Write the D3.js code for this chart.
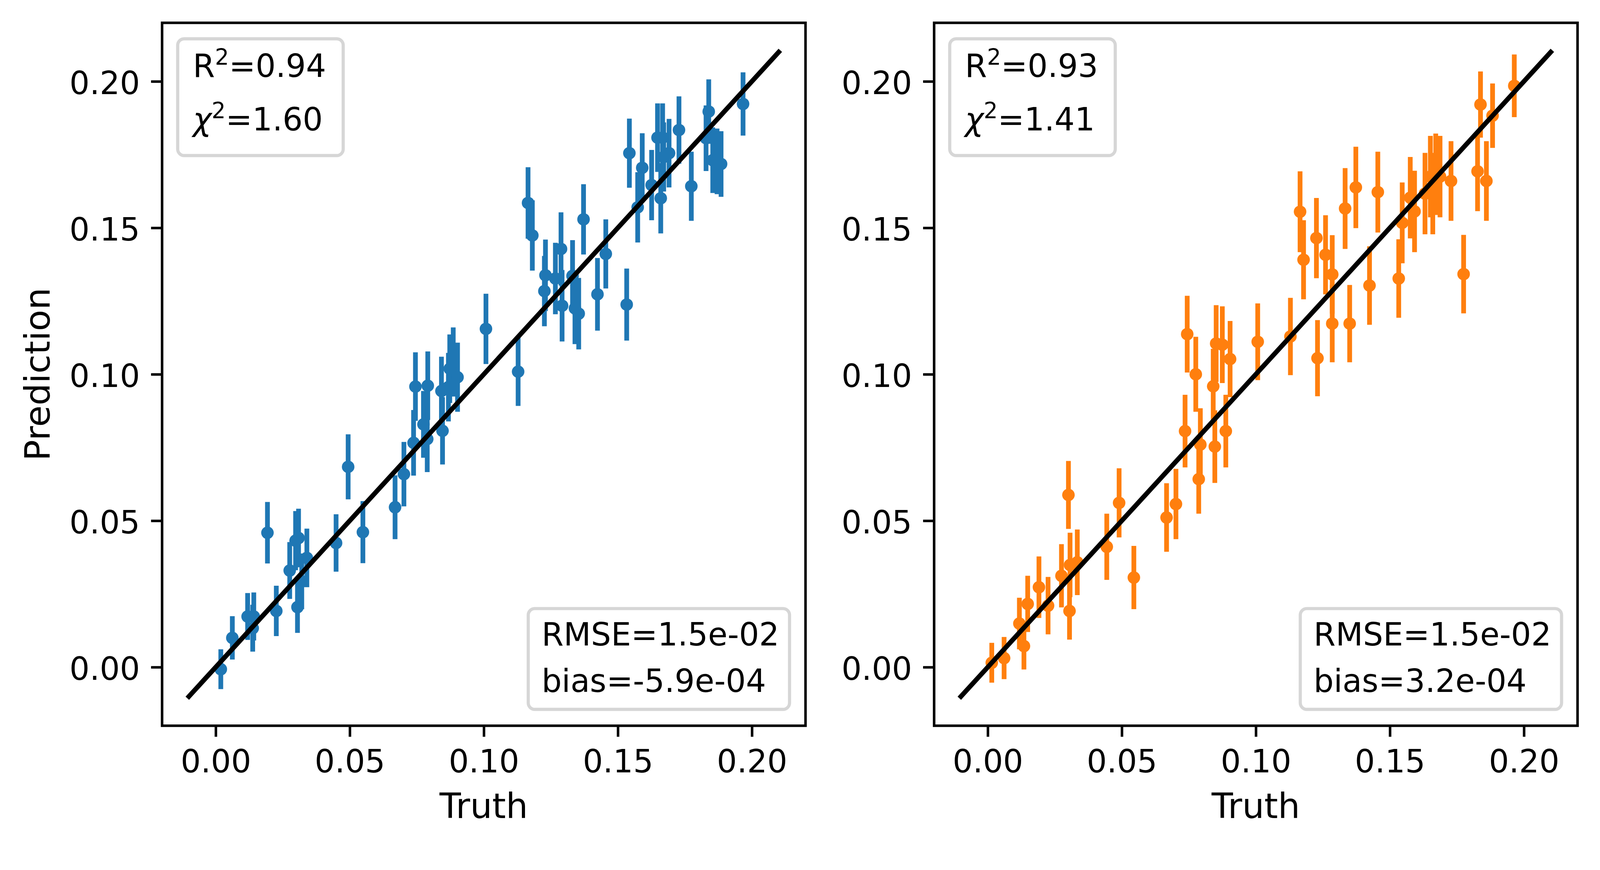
<!DOCTYPE html>
<html>
<head>
<meta charset="utf-8">
<script src="https://cdn.jsdelivr.net/npm/d3@7"></script>
<style>
  html, body { margin: 0; padding: 0; background: #fff; overflow: hidden; }
  #canvas { display: block; width: 100vw; height: 100vh; }
  text { font-family: "DejaVu Sans", sans-serif; }
</style>
</head>
<body>
<svg id="canvas" viewBox="0 0 4205 2228" preserveAspectRatio="xMidYMin meet"></svg>
<script>
// left model (blue): truth, prediction, 1-sigma error
const truthA = [0.0019,0.0062,0.0119,0.0138,0.0142,0.0193,0.0226,0.0276,0.0298,0.0305,0.0309,0.0321,0.0340,0.0449,0.0494,0.0549,0.0669,0.0702,0.0738,0.0745,0.0775,0.0789,0.0791,0.0842,0.0846,0.0868,0.0873,0.0886,0.0902,0.1008,0.1128,0.1165,0.1181,0.1226,0.1230,0.1267,0.1288,0.1292,0.1331,0.1340,0.1354,0.1372,0.1424,0.1455,0.1533,0.1543,0.1574,0.1591,0.1626,0.1648,0.1660,0.1667,0.1671,0.1691,0.1728,0.1774,0.1829,0.1839,0.1854,0.1870,0.1885,0.1967];
const predA = [-0.0007,0.0100,0.0173,0.0133,0.0173,0.0459,0.0192,0.0330,0.0432,0.0205,0.0441,0.0293,0.0373,0.0424,0.0684,0.0461,0.0546,0.0659,0.0766,0.0958,0.0829,0.0779,0.0961,0.0943,0.0807,0.0956,0.1019,0.1042,0.0990,0.1155,0.1009,0.1585,0.1474,0.1284,0.1338,0.1327,0.1428,0.1234,0.1336,0.1225,0.1207,0.1529,0.1273,0.1411,0.1238,0.1755,0.1570,0.1705,0.1646,0.1808,0.1601,0.1808,0.1742,0.1755,0.1834,0.1642,0.1806,0.1897,0.1731,0.1727,0.1718,0.1923];
const errA = [0.0068,0.0074,0.0080,0.0080,0.0082,0.0105,0.0086,0.0097,0.0101,0.0088,0.0100,0.0095,0.0100,0.0098,0.0111,0.0106,0.0109,0.0110,0.0112,0.0117,0.0114,0.0113,0.0117,0.0117,0.0115,0.0117,0.0117,0.0118,0.0118,0.0120,0.0117,0.0122,0.0120,0.0120,0.0122,0.0122,0.0125,0.0122,0.0122,0.0122,0.0122,0.0120,0.0124,0.0118,0.0123,0.0118,0.0120,0.0118,0.0120,0.0117,0.0120,0.0117,0.0118,0.0117,0.0115,0.0118,0.0112,0.0110,0.0112,0.0112,0.0112,0.0108];

// right model (orange)
const truthB = [0.0015,0.0061,0.0118,0.0135,0.0149,0.0191,0.0225,0.0275,0.0301,0.0305,0.0307,0.0334,0.0444,0.0490,0.0545,0.0667,0.0702,0.0736,0.0744,0.0776,0.0787,0.0793,0.0841,0.0847,0.0852,0.0875,0.0888,0.0904,0.1007,0.1129,0.1165,0.1178,0.1226,0.1230,0.1260,0.1285,0.1285,0.1333,0.1350,0.1373,0.1424,0.1455,0.1533,0.1546,0.1576,0.1592,0.1631,0.1651,0.1660,0.1671,0.1687,0.1728,0.1775,0.1827,0.1838,0.1860,0.1883,0.1964];
const predB = [0.0015,0.0031,0.0149,0.0072,0.0216,0.0273,0.0210,0.0312,0.0588,0.0192,0.0349,0.0358,0.0411,0.0561,0.0306,0.0511,0.0557,0.0806,0.1137,0.1000,0.0642,0.0760,0.0959,0.0753,0.1105,0.1101,0.0806,0.1052,0.1111,0.1129,0.1555,0.1391,0.1465,0.1055,0.1408,0.1341,0.1173,0.1566,0.1173,0.1638,0.1303,0.1622,0.1327,0.1517,0.1603,0.1556,0.1617,0.1675,0.1617,0.1683,0.1675,0.1660,0.1342,0.1693,0.1921,0.1660,0.1883,0.1985];
const errB = [0.0068,0.0072,0.0088,0.0080,0.0096,0.0105,0.0098,0.0108,0.0116,0.0098,0.0110,0.0112,0.0113,0.0118,0.0108,0.0117,0.0120,0.0124,0.0131,0.0128,0.0118,0.0124,0.0128,0.0124,0.0131,0.0131,0.0124,0.0130,0.0131,0.0132,0.0138,0.0135,0.0137,0.0130,0.0135,0.0134,0.0132,0.0138,0.0132,0.0139,0.0134,0.0138,0.0134,0.0138,0.0139,0.0139,0.0139,0.0139,0.0139,0.0139,0.0139,0.0136,0.0134,0.0136,0.0113,0.0136,0.0110,0.0107];

const ticks = [0, 0.05, 0.1, 0.15, 0.2];
const r2Labels = ["0.94", "0.93"];
const chiLabels = ["1.60", "1.41"];
const rmseLabels = ["1.5e-02", "1.5e-02"];
const biasLabels = ["-5.9e-04", "3.2e-04"];
const colors = ["#1f77b4", "#ff7f0e"];

let svg = d3.select("#canvas");

// layout (600 dpi matplotlib look)
const W = 1691, H = 1848, topY = 60;
const lefts = [426, 2455];
const fs = 83.3;      // 10pt
const labelFs = 91.7; // 11pt
const lw = 12.5;      // 1.5pt
const spine = 6.67;   // 0.8pt

let textBox = (g, lines, boxX, boxY, anchorRight, padL, padR, baselines, h) => {
  let texts = lines.map((build, k) => {
    let t = g.append("text").attr("font-size", fs).attr("y", boxY + baselines[k]);
    build(t);
    return t;
  });
  let maxW = d3.max(texts, (t) => t.node().getBBox().width);
  let bw = maxW + padL + padR;
  let bx = anchorRight ? boxX - bw : boxX;
  texts.forEach((t) => t.attr("x", bx + padL));
  g.insert("rect", "text")
    .attr("x", bx).attr("y", boxY)
    .attr("width", bw).attr("height", h)
    .attr("rx", 17).attr("ry", 17)
    .attr("fill", "white").attr("fill-opacity", 0.8)
    .attr("stroke", "#cccccc").attr("stroke-opacity", 0.8)
    .attr("stroke-width", 8.3);
};

let panel = (i, truth, pred, err) => {
  let left = lefts[i];
  let x = d3.scaleLinear().domain([-0.02, 0.22]).range([left, left + W]);
  let y = d3.scaleLinear().domain([-0.02, 0.22]).range([topY + H, topY]);
  let g = svg.append("g");

  // error bars
  g.append("g").selectAll("line")
    .data(truth)
    .enter()
    .append("line")
    .attr("x1", (d) => x(d))
    .attr("x2", (d) => x(d))
    .attr("y1", (d, j) => y(pred[j] - err[j]))
    .attr("y2", (d, j) => y(pred[j] + err[j]))
    .attr("stroke", colors[i])
    .attr("stroke-width", lw);

  // points
  g.append("g").selectAll("circle")
    .data(truth)
    .enter()
    .append("circle")
    .attr("cx", (d) => x(d))
    .attr("cy", (d, j) => y(pred[j]))
    .attr("r", 16.5)
    .attr("fill", colors[i]);

  // identity line
  g.append("line")
    .attr("x1", x(-0.01)).attr("y1", y(-0.01))
    .attr("x2", x(0.21)).attr("y2", y(0.21))
    .attr("stroke", "black")
    .attr("stroke-width", lw)
    .attr("stroke-linecap", "square");

  // axes
  let xAxis = d3.axisBottom(x).tickValues(ticks).tickFormat(d3.format(".2f"))
    .tickSize(29).tickPadding(29).tickSizeOuter(0);
  let yAxis = d3.axisLeft(y).tickValues(ticks).tickFormat(d3.format(".2f"))
    .tickSize(29).tickPadding(29).tickSizeOuter(0);

  let gx = g.append("g").attr("transform", `translate(0,${topY + H})`).call(xAxis);
  let gy = g.append("g").attr("transform", `translate(${left},0)`).call(yAxis);
  [gx, gy].forEach((a) => {
    a.select(".domain").remove();
    a.attr("font-size", fs).attr("font-family", "DejaVu Sans");
    a.selectAll(".tick line").attr("stroke", "black").attr("stroke-width", spine);
    a.selectAll(".tick text").attr("fill", "black");
  });
  gx.selectAll(".tick text").attr("dy", "0.78em");
  gy.selectAll(".tick text").attr("dy", "0.4em");

  // frame
  g.append("rect")
    .attr("x", left).attr("y", topY)
    .attr("width", W).attr("height", H)
    .attr("fill", "none")
    .attr("stroke", "black")
    .attr("stroke-width", spine);

  // axis labels
  g.append("text")
    .attr("x", left + W / 2).attr("y", 2151)
    .attr("text-anchor", "middle")
    .attr("font-size", labelFs)
    .text("Truth");
  if (i === 0) {
    g.append("text")
      .attr("transform", `translate(130,${topY + H / 2}) rotate(-90)`)
      .attr("text-anchor", "middle")
      .attr("font-size", labelFs)
      .text("Prediction");
  }

  // upper-left stats box
  textBox(g.append("g"), [
    (t) => {
      t.append("tspan").text("R");
      t.append("tspan").attr("font-size", 58).attr("dy", -32).text("2");
      t.append("tspan").attr("dy", 32).text("=" + r2Labels[i]);
    },
    (t) => {
      t.append("tspan").attr("font-style", "italic").text("\u03c7");
      t.append("tspan").attr("font-size", 58).attr("dy", -32).text("2");
      t.append("tspan").attr("dy", 32).text("=" + chiLabels[i]);
    }
  ], left + 41, topY + 42, false, 40, 45, [100, 241], 307);

  // lower-right stats box
  textBox(g.append("g"), [
    (t) => t.text("RMSE=" + rmseLabels[i]),
    (t) => t.text("bias=" + biasLabels[i])
  ], left + W - 42, topY + H - 43 - 265, true, 35, 27, [97, 219], 265);
};

panel(0, truthA, predA, errA);
panel(1, truthB, predB, errB);
</script>
</body>
</html>
